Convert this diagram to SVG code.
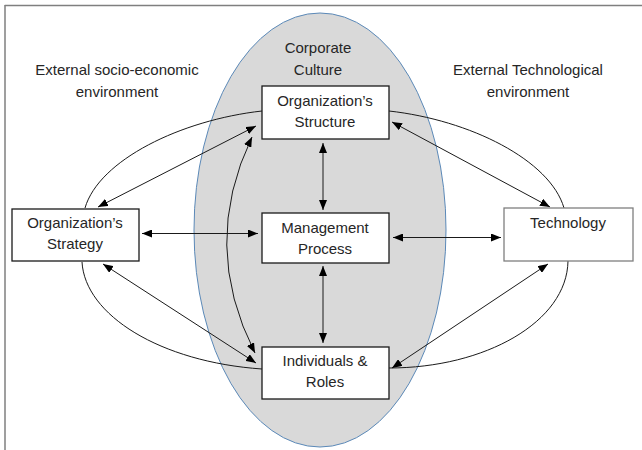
<svg xmlns="http://www.w3.org/2000/svg" width="642" height="450" viewBox="0 0 642 450">
  <style>
    .lbl { font-family: "Liberation Sans", Arial, sans-serif; font-size: 15px; fill: #262626; text-anchor: middle; }
    .box { fill: #ffffff; stroke: #1a1a1a; stroke-width: 1.3; }
    .box-light { fill: #ffffff; stroke: #7f7f7f; stroke-width: 1.3; }
    .link { fill: none; stroke: #1a1a1a; stroke-width: 1; }
    .arrow { fill: none; stroke: #1a1a1a; stroke-width: 1; marker-start: url(#head); marker-end: url(#head); }
  </style>
  <defs>
    <marker id="head" viewBox="0 0 10 8" refX="10" refY="4" markerWidth="10" markerHeight="8" markerUnits="userSpaceOnUse" orient="auto-start-reverse">
      <path d="M0,0 L10,4 L0,8 z" fill="#000000"/>
    </marker>
  </defs>

  <rect width="642" height="450" fill="#ffffff"/>

  <!-- partial frame -->
  <g id="frame" stroke="#7f7f7f" stroke-width="1.5" fill="none">
    <line x1="4.75" y1="5.5" x2="642" y2="5.5"/>
    <line x1="5" y1="5" x2="5" y2="450"/>
  </g>

  <!-- corporate culture ellipse -->
  <g id="culture">
    <ellipse cx="320" cy="230" rx="126" ry="217" fill="#d9d9d9" stroke="#5b89b8" stroke-width="1"/>
    <text class="lbl" x="318" y="53">Corporate</text>
    <text class="lbl" x="318" y="75">Culture</text>
  </g>

  <!-- environment labels -->
  <g id="env-socio">
    <text class="lbl" x="117" y="75">External socio-economic</text>
    <text class="lbl" x="117" y="97">environment</text>
  </g>
  <g id="env-tech">
    <text class="lbl" x="528" y="75">External Technological</text>
    <text class="lbl" x="528" y="97">environment</text>
  </g>

  <!-- connectors -->
  <g id="connectors">
    <!-- outer curves -->
    <path class="link" d="M262,111 C181,120 99,160 85,208"/>
    <path class="link" d="M82,262 C85,315 160,362 262,369"/>
    <path class="link" d="M389,111 C470,120 550,160 564,208"/>
    <path class="link" d="M568,261 C567,322 485,368 389,368"/>
    <!-- double-headed links -->
    <line class="arrow" x1="98" y1="207" x2="256" y2="126"/>
    <line class="arrow" x1="103" y1="264" x2="256" y2="363"/>
    <line class="arrow" x1="392" y1="122" x2="550" y2="207"/>
    <line class="arrow" x1="548" y1="264" x2="392" y2="368"/>
    <line class="arrow" x1="142" y1="233.5" x2="258" y2="233.5"/>
    <line class="arrow" x1="393" y1="237.5" x2="501" y2="237.5"/>
    <line class="arrow" x1="323" y1="143" x2="323" y2="210"/>
    <line class="arrow" x1="323" y1="266" x2="323" y2="343"/>
    <path class="arrow" d="M252,137 Q200,245 255,353"/>
  </g>

  <!-- nodes -->
  <g id="structure">
    <rect class="box" x="262" y="86" width="127" height="53"/>
    <text class="lbl" x="325" y="106">Organization’s</text>
    <text class="lbl" x="325" y="127">Structure</text>
  </g>
  <g id="management">
    <rect class="box" x="262" y="213" width="127" height="50"/>
    <text class="lbl" x="325" y="233">Management</text>
    <text class="lbl" x="325" y="254">Process</text>
  </g>
  <g id="individuals">
    <rect class="box" x="262" y="347" width="127" height="52"/>
    <text class="lbl" x="325" y="366">Individuals &amp;</text>
    <text class="lbl" x="325" y="387">Roles</text>
  </g>
  <g id="strategy">
    <rect class="box" x="12" y="209" width="127" height="52"/>
    <text class="lbl" x="75" y="228">Organization’s</text>
    <text class="lbl" x="75" y="249">Strategy</text>
  </g>
  <g id="technology">
    <rect class="box-light" x="504" y="208" width="129" height="53"/>
    <text class="lbl" x="568" y="228">Technology</text>
  </g>
</svg>
